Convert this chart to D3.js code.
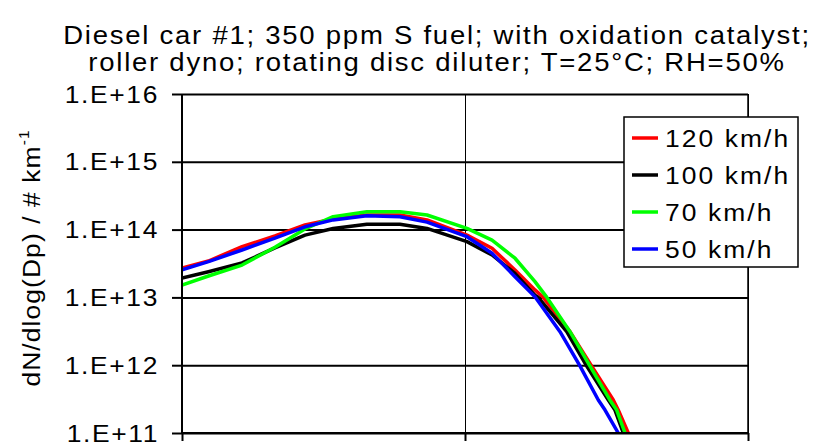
<!DOCTYPE html>
<html>
<head>
<meta charset="utf-8">
<script src="https://cdn.jsdelivr.net/npm/d3@7"></script>
<style>
  body { margin: 0; background: #fff; }
  svg { display: block; font-family: "Liberation Sans", Arial, sans-serif; }
</style>
</head>
<body>
<svg width="818" height="443"></svg>
<script>
// particle size (nm) and dN/dlog(Dp) per km
const dp120 = [10, 12.4, 16.3, 21.3, 27.2, 34.2, 45, 58.9, 73.4, 101.6, 124.6, 150.2, 176.7, 188.6, 235, 280.4, 334.2, 348, 377.6];
const n120 = [2.72e13, 3.44e13, 5.6e13, 8.05e13, 1.17e14, 1.43e14, 1.64e14, 1.64e14, 1.39e14, 8.3e13, 5.3e13, 2.54e13, 1.29e13, 1.01e13, 3.12e12, 9.7e11, 3.07e11, 2.18e11, 1e11];

const dp100 = [10, 12.4, 16.3, 21.3, 27.2, 34.2, 45, 58.9, 73.4, 101.6, 124.6, 150.2, 176.7, 181.1, 228.8, 269.2, 320.9, 338.8, 362.5];
const n100 = [1.93e13, 2.39e13, 3.22e13, 5.36e13, 8.3e13, 1.04e14, 1.2e14, 1.2e14, 1.04e14, 6.64e13, 4.22e13, 2.26e13, 1.08e13, 1.01e13, 3.12e12, 9.7e11, 3.07e11, 2.18e11, 1e11];

const dp70 = [10, 12.4, 16.3, 21.3, 27.2, 34.2, 45, 58.9, 73.4, 101.6, 124.6, 150.2, 176.7, 194.4, 235, 276.5, 325, 343.6, 367.7];
const n70 = [1.52e13, 2.07e13, 3.0e13, 5.5e13, 1.02e14, 1.55e14, 1.84e14, 1.84e14, 1.64e14, 1.04e14, 7.0e13, 3.78e13, 1.71e13, 1.01e13, 3.12e12, 9.7e11, 3.07e11, 2.18e11, 1e11];

const dp50 = [10, 12.4, 16.3, 21.3, 27.2, 34.2, 45, 58.9, 73.4, 101.6, 124.6, 150.2, 176.7, 216.6, 255, 295.8, 312.5, 348];
const n50 = [2.54e13, 3.37e13, 5.0e13, 7.5e13, 1.1e14, 1.39e14, 1.6e14, 1.55e14, 1.29e14, 7.85e13, 4.47e13, 2.02e13, 1.02e13, 3.12e12, 9.7e11, 3.07e11, 2.18e11, 1e11];

const seriesNames = ["120 km/h", "100 km/h", "70 km/h", "50 km/h"];
const seriesColors = ["#ff0000", "#000000", "#00ff00", "#0000ff"];
const yTicks = [1e11, 1e12, 1e13, 1e14, 1e15, 1e16];
const xTicks = [10, 100, 1000];
const titleLines = [
  "Diesel car #1; 350 ppm S fuel; with oxidation catalyst;",
  "roller dyno; rotating disc diluter; T=25°C; RH=50%"
];

const series = [
  { name: seriesNames[0], color: seriesColors[0], pts: dp120.map((d, i) => [d, n120[i]]) },
  { name: seriesNames[1], color: seriesColors[1], pts: dp100.map((d, i) => [d, n100[i]]) },
  { name: seriesNames[2], color: seriesColors[2], pts: dp70.map((d, i) => [d, n70[i]]) },
  { name: seriesNames[3], color: seriesColors[3], pts: dp50.map((d, i) => [d, n50[i]]) }
];

const pLeft = 182, pRight = 748, pTop = 94, pBottom = 433;

const svg = d3.select("svg");
const x = d3.scaleLog().domain([10, 1000]).range([pLeft, pRight]);
const y = d3.scaleLog().domain([1e11, 1e16]).range([pBottom, pTop]);

const expLabel = (n) => "1.E+" + Math.round(Math.log10(n));

// the original's lettering is wider and more spaced than Arial
const stext = (g, tx, ty, txt, anchor, fs, sx, ls) =>
  g.append("text")
    .attr("transform", `translate(${tx},${ty}) scale(${sx},1)`)
    .attr("text-anchor", anchor || "middle")
    .attr("font-size", fs)
    .attr("letter-spacing", ls)
    .attr("fill", "#000")
    .text(txt);

// title
titleLines.forEach((t, i) => stext(svg, 437, 44 + i * 27, t, "middle", 25, 1.1, 1.6));

// horizontal grid
svg.append("g")
  .attr("transform", `translate(${pLeft},0)`)
  .call(d3.axisLeft(y).tickValues(yTicks).tickSize(-(pRight - pLeft)).tickFormat(""))
  .call(g => g.select(".domain").remove())
  .call(g => g.selectAll("line").attr("stroke", "#000").attr("stroke-width", 2));

// vertical grid
svg.append("g")
  .attr("transform", `translate(0,${pBottom})`)
  .call(d3.axisBottom(x).tickValues(xTicks).tickSize(-(pBottom - pTop)).tickFormat(""))
  .call(g => g.select(".domain").remove())
  .call(g => g.selectAll("line").attr("stroke", "#000").attr("stroke-width", 1));

// right border
svg.append("line")
  .attr("x1", pRight).attr("x2", pRight).attr("y1", pTop).attr("y2", pBottom)
  .attr("stroke", "#000").attr("stroke-width", 1.5);

// lines
svg.append("clipPath").attr("id", "plot")
  .append("rect").attr("x", pLeft).attr("y", pTop - 2).attr("width", pRight - pLeft).attr("height", pBottom - pTop + 2);

const line = d3.line().x(d => x(d[0])).y(d => y(d[1]));
svg.append("g").attr("clip-path", "url(#plot)")
  .selectAll("path")
  .data(series)
  .join("path")
  .attr("d", d => line(d.pts))
  .attr("fill", "none")
  .attr("stroke", d => d.color)
  .attr("stroke-width", 3.5)
  .attr("stroke-linejoin", "round");

// y axis
const yAxis = svg.append("g")
  .attr("transform", `translate(${pLeft},0)`)
  .call(d3.axisLeft(y).tickValues(yTicks).tickSize(10).tickFormat(""));
yAxis.select(".domain").attr("stroke-width", 2).attr("d", `M0,${pTop}V${pBottom}`);
yAxis.selectAll("line").attr("stroke-width", 2);
yTicks.forEach(v => stext(svg, 159, y(v) + 8.5, expLabel(v), "end", 24, 1.1, 1.5));

// x axis (labels fall below the picture)
const xAxis = svg.append("g")
  .attr("transform", `translate(0,${pBottom})`)
  .call(d3.axisBottom(x).tickValues(xTicks).tickSize(8).tickFormat(""));
xAxis.select(".domain").attr("stroke-width", 2).attr("d", `M${pLeft},0H${pRight}`);
xAxis.selectAll("line").attr("stroke-width", 2);

// y label
const yl = svg.append("text")
  .attr("transform", `translate(40,258) rotate(-90) scale(1.1,1)`)
  .attr("text-anchor", "middle")
  .attr("font-size", 24)
  .attr("letter-spacing", 1);
yl.append("tspan").text("dN/dlog(Dp) / # km");
yl.append("tspan").attr("font-size", 14).attr("dy", -11).text("-1");

// legend
const lg = svg.append("g");
lg.append("rect")
  .attr("x", 624).attr("y", 117).attr("width", 174).attr("height", 150)
  .attr("fill", "#fff").attr("stroke", "#000").attr("stroke-width", 1.5);
series.forEach((s, i) => {
  const cy = 138 + i * 37;
  lg.append("line")
    .attr("x1", 632).attr("x2", 658).attr("y1", cy).attr("y2", cy)
    .attr("stroke", s.color).attr("stroke-width", 3.5);
  stext(lg, 665, cy + 8.5, s.name, "start", 24, 1.1, 1.9);
});
</script>
</body>
</html>
